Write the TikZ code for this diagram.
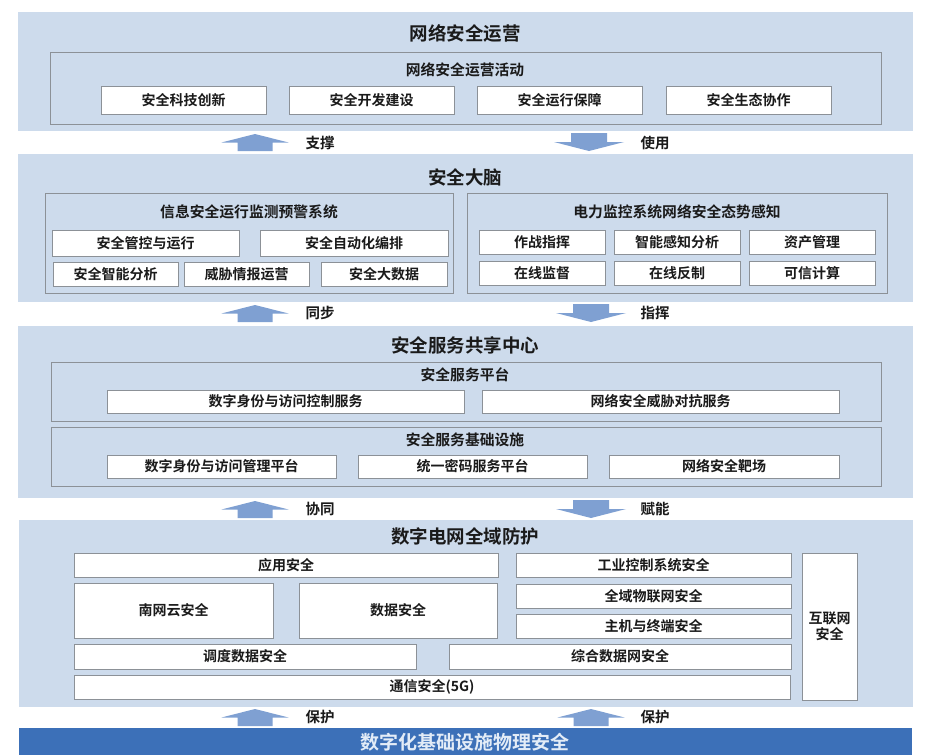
\documentclass[tikz,border=0pt]{standalone}
\usepackage{fontspec}
\setmainfont{Noto Sans CJK SC}[BoldFont={Noto Sans CJK SC Bold}]
\usepackage{tikz}
\definecolor{LayerBlue}{HTML}{CDDBEC}
\definecolor{ArrowBlue}{HTML}{7FA0D2}
\definecolor{FrameGray}{HTML}{8C9197}
\definecolor{BarBlue}{HTML}{3C70B8}
\definecolor{BarText}{HTML}{E3ECF7}
\definecolor{InkDark}{HTML}{1A1A1A}
\usetikzlibrary{
	positioning
}

\begin{document}
\begin{tikzpicture}[
	x=1pt, y=-1pt,
	layer/.style={fill=LayerBlue, anchor=north west, inner sep=0pt},
	panel/.style={draw=FrameGray, line width=0.8pt, anchor=north west, inner sep=0pt},
	cell/.style={draw=FrameGray, line width=0.9pt, fill=white, text=InkDark, anchor=north west, inner sep=0pt, outer sep=0pt, font=\bfseries\fontsize{14}{16}\selectfont},
	cellsmall/.style={cell, minimum width=126pt, minimum height=24pt},
	layertitle/.style={text=InkDark, font=\bfseries\fontsize{18.5}{20}\selectfont},
	paneltitle/.style={text=InkDark, font=\bfseries\fontsize{14.8}{16}\selectfont},
	flowlabel/.style={text=InkDark, anchor=west, font=\bfseries\fontsize{14.5}{16}\selectfont},
	uparr/.pic={\fill[ArrowBlue] (-17.5,17) -- (-17.5,8.5) -- (-33.5,8.5) -- (0,0) -- (33.5,8.5) -- (17.5,8.5) -- (17.5,17) -- cycle;},
	downarr/.pic={\fill[ArrowBlue] (-18,-18) -- (-18,-9) -- (-35,-9) -- (0,0) -- (35,-9) -- (18,-9) -- (18,-18) -- cycle;}
]

	\fill[white] (0,0) rectangle (931,755);
	\useasboundingbox (0,0) rectangle (931,755);

	% operations layer
	\node[layer, minimum width=895pt, minimum height=119pt] (ops) at (18,12) {};
	\node[layertitle] (opstitle) at (465,33) {网络安全运营};
	\node[panel, minimum width=831pt, minimum height=72pt] (opsact) at (50,52) {};
	\node[paneltitle] (opsacttitle) at (465,70) {网络安全运营活动};
	\node[cell, minimum width=165pt, minimum height=28pt] (innov) at (101,86) {安全科技创新};
	\node[cell, minimum width=165pt, minimum height=28pt, right=23pt of innov] (devb) {安全开发建设};
	\node[cell, minimum width=165pt, minimum height=28pt, right=23pt of devb] (runs) {安全运行保障};
	\node[cell, minimum width=165pt, minimum height=28pt, right=24pt of runs] (eco) {安全生态协作};

	\pic at (255,134) {uparr};
	\node[flowlabel] (support) at (302,143) {支撑};
	\pic at (589,151) {downarr};
	\node[flowlabel] (use) at (637,143) {使用};

	% brain layer
	\node[layer, minimum width=895pt, minimum height=148pt] (brain) at (18,154) {};
	\node[layertitle] (braintitle) at (465,177) {安全大脑};
	\node[panel, minimum width=408pt, minimum height=100pt] (monitor) at (45,193) {};
	\node[paneltitle] (monitortitle) at (249,212) {信息安全运行监测预警系统};
	\node[cell, minimum width=187pt, minimum height=26pt] (ctrl) at (52,230) {安全管控与运行};
	\node[cell, minimum width=188pt, minimum height=26pt, right=21pt of ctrl] (auto) {安全自动化编排};
	\node[cell, minimum width=125pt, minimum height=24pt] (smart) at (53,262) {安全智能分析};
	\node[cell, minimum width=125pt, minimum height=24pt, right=6pt of smart] (intel) {威胁情报运营};
	\node[cell, minimum width=126pt, minimum height=24pt, right=12pt of intel] (bigdata) {安全大数据};

	\node[panel, minimum width=420pt, minimum height=100pt] (aware) at (467,193) {};
	\node[paneltitle] (awaretitle) at (677,212) {电力监控系统网络安全态势感知};
	\node[cellsmall] (command) at (479,230) {作战指挥};
	\node[cellsmall, right=9pt of command] (sense) {智能感知分析};
	\node[cellsmall, right=9pt of sense] (asset) {资产管理};
	\node[cellsmall] (online) at (479,261) {在线监督};
	\node[cellsmall, right=9pt of online] (counter) {在线反制};
	\node[cellsmall, right=9pt of counter] (trust) {可信计算};

	\pic at (255,305) {uparr};
	\node[flowlabel] (sync) at (302,313) {同步};
	\pic at (591,322) {downarr};
	\node[flowlabel] (direct) at (637,313) {指挥};

	% shared service layer
	\node[layer, minimum width=895pt, minimum height=172pt] (share) at (18,326) {};
	\node[layertitle] (sharetitle) at (465,345) {安全服务共享中心};
	\node[panel, minimum width=830pt, minimum height=59pt] (platform) at (51,362) {};
	\node[paneltitle] (platformtitle) at (465,375) {安全服务平台};
	\node[cell, minimum width=357pt, minimum height=23pt] (idsvc) at (107,390) {数字身份与访问控制服务};
	\node[cell, minimum width=357pt, minimum height=23pt, right=18pt of idsvc] (threat) {网络安全威胁对抗服务};
	\node[panel, minimum width=830pt, minimum height=59pt] (infra) at (51,427) {};
	\node[paneltitle] (infratitle) at (465,440) {安全服务基础设施};
	\node[cell, minimum width=229pt, minimum height=23pt] (idmgmt) at (107,455) {数字身份与访问管理平台};
	\node[cell, minimum width=229pt, minimum height=23pt, right=22pt of idmgmt] (crypto) {统一密码服务平台};
	\node[cell, minimum width=230pt, minimum height=23pt, right=22pt of crypto] (range) {网络安全靶场};

	\pic at (255,501) {uparr};
	\node[flowlabel] (coop) at (302,509) {协同};
	\pic at (591,518) {downarr};
	\node[flowlabel] (enable) at (637,509) {赋能};

	% grid protection layer
	\node[layer, minimum width=894pt, minimum height=187pt] (grid) at (19,520) {};
	\node[layertitle] (gridtitle) at (465,536) {数字电网全域防护};
	\node[cell, minimum width=424pt, minimum height=24pt] (appsec) at (74,553) {应用安全};
	\node[cell, minimum width=199pt, minimum height=55pt] (cloud) at (74,583) {南网云安全};
	\node[cell, minimum width=198pt, minimum height=55pt, right=26pt of cloud] (datasec) {数据安全};
	\node[cell, minimum width=275pt, minimum height=24pt] (ics) at (516,553) {工业控制系统安全};
	\node[cell, minimum width=275pt, minimum height=24pt, below=7pt of ics] (iot) {全域物联网安全};
	\node[cell, minimum width=275pt, minimum height=24pt, below=6pt of iot] (host) {主机与终端安全};
	\node[cell, minimum width=342pt, minimum height=25pt] (dispatch) at (74,644) {调度数据安全};
	\node[cell, minimum width=342pt, minimum height=25pt, right=33pt of dispatch] (intnet) {综合数据网安全};
	\node[cell, minimum width=716pt, minimum height=24pt] (comm) at (74,675) {通信安全(5G)};
	\node[cell, minimum width=55pt, minimum height=147pt, align=center] (inet) at (802,553) {互联网\\安全};

	\pic at (255,709) {uparr};
	\node[flowlabel] (protl) at (302,717) {保护};
	\pic at (591,709) {uparr};
	\node[flowlabel] (protr) at (637,717) {保护};

	% physical layer
	\node[layer, fill=BarBlue, minimum width=893pt, minimum height=27pt] (phys) at (19,728) {};
	\node[text=BarText, font=\bfseries\fontsize{19}{20}\selectfont] (physt) at (465,742) {数字化基础设施物理安全};

\end{tikzpicture}
\end{document}
